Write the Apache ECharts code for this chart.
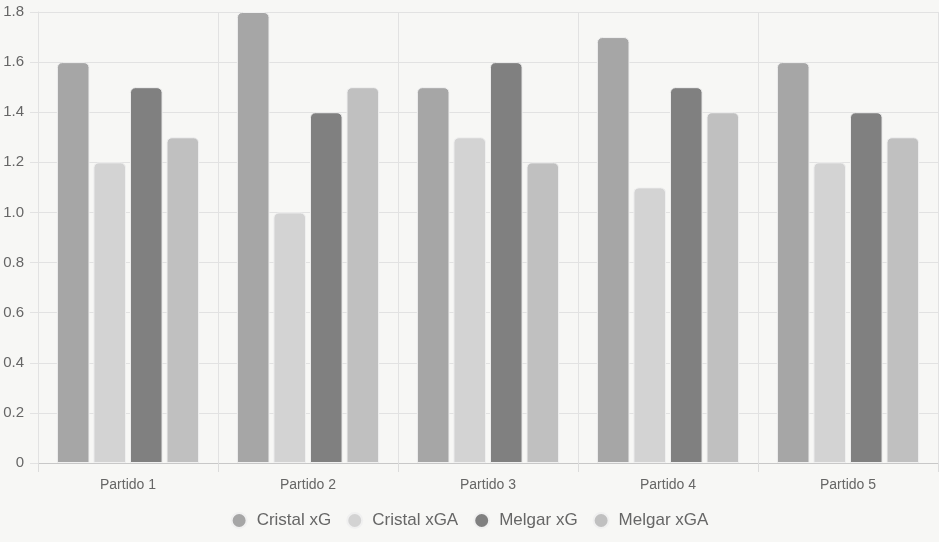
<!DOCTYPE html>
<html>
<head>
<meta charset="utf-8">
<script src="https://cdn.jsdelivr.net/npm/echarts@6/dist/echarts.min.js"></script>
<style>
  html, body { margin: 0; padding: 0; background: #f7f7f5; }
  #chart { width: 939px; height: 542px; }
</style>
</head>
<body>
<div id="chart"></div>
<script>
const categories = ['Partido 1', 'Partido 2', 'Partido 3', 'Partido 4', 'Partido 5'];
const cristalXG = [1.6, 1.8, 1.5, 1.7, 1.6];
const cristalXGA = [1.2, 1.0, 1.3, 1.1, 1.2];
const melgarXG = [1.5, 1.4, 1.6, 1.5, 1.4];
const melgarXGA = [1.3, 1.5, 1.2, 1.4, 1.3];

const names = ['Cristal xG', 'Cristal xGA', 'Melgar xG', 'Melgar xGA'];
const colors = ['#a6a6a6', '#d3d3d3', '#808080', '#c0c0c0'];
const values = [cristalXG, cristalXGA, melgarXG, melgarXGA];

const chart = echarts.init(document.getElementById('chart'));

const option = {
  backgroundColor: '#f7f7f5',
  animation: false,
  grid: { left: 38, right: 1, top: 12, bottom: 79 },
  legend: {
    bottom: 8,
    icon: 'circle',
    itemWidth: 15,
    itemHeight: 15,
    itemGap: 15,
    textStyle: { color: '#666', fontSize: 17, padding: [0, 0, 0, 5], fontFamily: 'Liberation Sans, Arial, sans-serif' },
    data: names
  },
  xAxis: {
    type: 'category',
    data: categories,
    axisLine: { lineStyle: { color: '#c8c8c8' } },
    axisTick: { show: true, length: 9, lineStyle: { color: '#dcdcdc' } },
    axisLabel: { color: '#666', fontSize: 14, margin: 15, fontFamily: 'Liberation Sans, Arial, sans-serif' },
    splitLine: { show: true, lineStyle: { color: '#e2e2e2' } }
  },
  yAxis: {
    type: 'value',
    min: 0,
    max: 1.8,
    interval: 0.2,
    axisLine: { show: true, lineStyle: { color: '#e2e2e2' } },
    axisTick: { show: true, length: 8, lineStyle: { color: '#e2e2e2' } },
    axisLabel: {
      color: '#666',
      fontSize: 15,
      margin: 14,
      fontFamily: 'Liberation Sans, Arial, sans-serif',
      formatter: function (v) { return v === 0 ? '0' : v.toFixed(1); }
    },
    splitLine: { show: true, lineStyle: { color: '#e2e2e2' } }
  },
  series: names.map(function (n, i) {
    return {
      name: n,
      type: 'bar',
      data: values[i],
      barGap: '12%',
      barCategoryGap: '21%',
      itemStyle: {
        color: colors[i],
        borderRadius: [5, 5, 0, 0],
        borderColor: '#f0f0f0',
        borderWidth: 1
      }
    };
  })
};

chart.setOption(option);
</script>
</body>
</html>
